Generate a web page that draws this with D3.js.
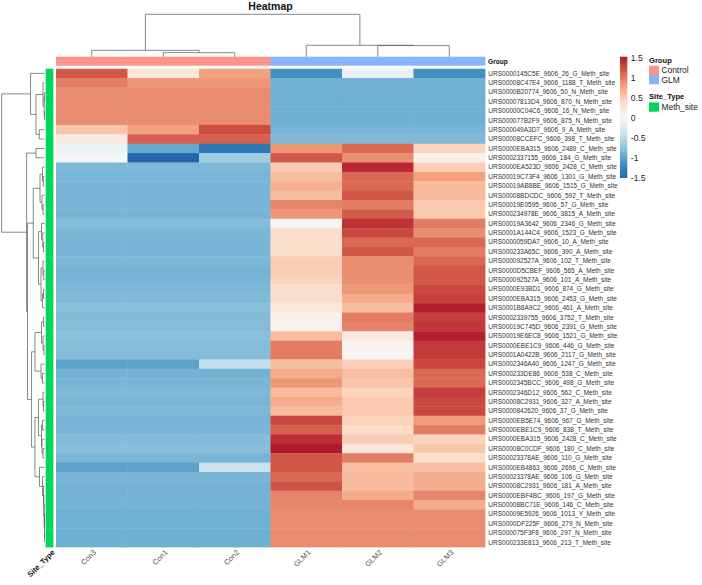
<!DOCTYPE html>
<html><head><meta charset="utf-8">
<script src="https://cdn.jsdelivr.net/npm/d3@7"></script>
<style>body{margin:0;background:#fff} svg{display:block;font-family:"Liberation Sans",Arial,Helvetica,sans-serif}</style>
</head><body><svg id="c" width="702" height="585"></svg>
<script>
// ---------------- data ----------------
const rowLabels = [
"URS0000145C5E_9606_26_G_Meth_site","URS00008C47E4_9606_1188_T_Meth_site","URS0000B20774_9606_50_N_Meth_site",
"URS00007813D4_9606_870_N_Meth_site","URS00000C04C6_9606_16_N_Meth_site","URS000077B2F9_9606_875_N_Meth_site",
"URS000049A3D7_9606_9_A_Meth_site","URS00008CCEFC_9606_398_T_Meth_site","URS0000EBA315_9606_2489_C_Meth_site",
"URS0002337155_9606_184_G_Meth_site","URS0000EA523D_9606_2428_C_Meth_site","URS00019C73F4_9606_1301_G_Meth_site",
"URS00019AB8BE_9606_1515_G_Meth_site","URS00008BDCDC_9606_592_T_Meth_site","URS00019E0595_9606_57_G_Meth_site",
"URS000234978E_9606_3815_A_Meth_site","URS00019A3642_9606_2346_G_Meth_site","URS0001A144C4_9606_1523_G_Meth_site",
"URS0000059DA7_9606_10_A_Meth_site","URS000233A65C_9606_390_A_Meth_site","URS000092527A_9606_102_T_Meth_site",
"URS0000D5CBEF_9606_565_A_Meth_site","URS000092527A_9606_101_A_Meth_site","URS0000E93BD1_9606_874_G_Meth_site",
"URS0000EBA315_9606_2453_G_Meth_site","URS0001B8A9C2_9606_461_A_Meth_site","URS0002339755_9606_3752_T_Meth_site",
"URS00019C745D_9606_2391_G_Meth_site","URS00019E6EC8_9606_1521_G_Meth_site","URS0000EBE1C9_9606_446_G_Meth_site",
"URS0001A0422B_9606_2117_G_Meth_site","URS0002346A40_9606_1247_G_Meth_site","URS000233DE86_9606_538_C_Meth_site",
"URS0002345BCC_9606_498_G_Meth_site","URS0002346D12_9606_562_C_Meth_site","URS00008C2931_9606_327_A_Meth_site",
"URS0000842620_9606_37_G_Meth_site","URS0000EB5E74_9606_967_G_Meth_site","URS0000EBE1C9_9606_838_T_Meth_site",
"URS0000EBA315_9606_2428_C_Meth_site","URS00008C0CDF_9606_180_C_Meth_site","URS00023378AE_9606_110_G_Meth_site",
"URS0000EB4863_9606_2696_C_Meth_site","URS00023378AE_9606_106_G_Meth_site","URS00008C2931_9606_181_A_Meth_site",
"URS0000EBF4BC_9606_197_G_Meth_site","URS00008BC71E_9606_146_C_Meth_site","URS00009E5926_9606_1013_Y_Meth_site",
"URS0000DF225F_9606_279_N_Meth_site","URS000075F3F8_9606_297_N_Meth_site","URS000233E813_9606_213_T_Meth_site"
];
const colLabels = ["Con3","Con1","Con2","GLM1","GLM2","GLM3"];
const colGroups = ["Control","Control","Control","GLM","GLM","GLM"];
const groupLevels = ["Control","GLM"];
const siteLevels = ["Meth_site"];
// row-scaled values, columns in colLabels order
const cellValues = [
[1.2,0.25,0.8,-1.15,-0.1,-1.15],
[1.0,0.85,0.85,-0.9,-0.9,-0.9],
[0.91,0.91,0.91,-0.91,-0.91,-0.91],
[0.91,0.91,0.91,-0.91,-0.91,-0.91],
[0.91,0.91,0.91,-0.91,-0.91,-0.91],
[0.91,0.91,0.91,-0.91,-0.91,-0.91],
[0.55,0.8,1.25,-0.87,-0.87,-0.87],
[0.18,1.15,1.15,-0.83,-0.83,-0.83],
[-0.1,-0.95,-1.35,0.85,1.1,0.45],
[0.0,-1.5,-0.65,1.2,0.9,0.08],
[-0.84,-0.84,-0.84,0.5,1.45,0.48],
[-0.86,-0.86,-0.86,0.6,1.1,0.8],
[-0.86,-0.86,-0.86,0.7,1.1,0.62],
[-0.86,-0.86,-0.86,0.6,1.2,0.62],
[-0.86,-0.86,-0.86,0.95,1.0,0.52],
[-0.87,-0.87,-0.87,0.85,1.18,0.52],
[-0.8,-0.8,-0.8,0.03,1.4,1.0],
[-0.85,-0.85,-0.85,0.35,1.28,0.9],
[-0.86,-0.86,-0.86,0.35,1.1,1.1],
[-0.86,-0.86,-0.86,0.35,1.2,1.0],
[-0.85,-0.85,-0.85,0.5,0.9,1.1],
[-0.88,-0.88,-0.88,0.5,0.9,1.2],
[-0.87,-0.87,-0.87,0.45,0.9,1.2],
[-0.85,-0.85,-0.85,0.35,0.85,1.28],
[-0.82,-0.82,-0.82,0.35,0.72,1.32],
[-0.79,-0.79,-0.79,0.22,0.6,1.5],
[-0.82,-0.82,-0.82,0.1,1.0,1.33],
[-0.81,-0.81,-0.81,0.1,0.95,1.36],
[-0.79,-0.79,-0.79,0.6,0.22,1.5],
[-0.81,-0.81,-0.81,1.0,0.06,1.35],
[-0.81,-0.81,-0.81,1.0,0.06,1.35],
[-1.0,-1.0,-0.45,0.6,0.48,1.28],
[-0.88,-0.88,-0.88,0.72,0.6,1.1],
[-0.86,-0.86,-0.86,0.85,0.55,1.1],
[-0.83,-0.83,-0.83,0.62,0.45,1.33],
[-0.86,-0.86,-0.86,0.72,0.52,1.28],
[-0.84,-0.84,-0.84,0.62,0.52,1.28],
[-0.87,-0.87,-0.87,1.28,0.45,0.82],
[-0.86,-0.86,-0.86,1.15,0.38,1.0],
[-0.81,-0.81,-0.81,1.42,0.5,0.45],
[-0.79,-0.79,-0.79,1.55,0.22,0.55],
[-0.86,-0.86,-0.86,1.2,1.0,0.35],
[-1.0,-1.0,-0.4,1.2,0.6,0.6],
[-0.86,-0.86,-0.86,1.12,0.62,0.72],
[-0.88,-0.88,-0.88,1.22,0.62,0.72],
[-0.88,-0.88,-0.88,0.95,0.72,0.95],
[-0.88,-0.88,-0.88,0.95,0.95,0.72],
[-0.91,-0.91,-0.91,0.91,0.91,0.91],
[-0.91,-0.91,-0.91,0.91,0.91,0.91],
[-0.91,-0.91,-0.91,0.91,0.91,0.91],
[-0.91,-0.91,-0.91,0.91,0.91,0.91]
];
// dendrograms: [mergeHeight, left, right], leaves = index
const rowTree = [4.3,
  [1.4, 0, [0.86, [0.15, 1, [0.03, [0, 2, 3], [0, 4, 5]]], [0.52, 6, 7]]],
  [1.8, [0.86, 8, 9],
    [1.71,
      [1.13,
        [0.45, [0.2, 10, [0.12, 11, 12]], [0.25, 13, [0.15, 14, 15]]],
        [0.6, [0.3, 16, [0.18, 17, [0.1, 18, 19]]], [0.35, [0.15, 20, [0.08, 21, 22]], [0.2, [0.1, 23, 24], 25]]]
      ],
      [1.3,
        [0.96, [0.3, [0.1, 26, 27], [0.15, 28, [0.05, 29, 30]]], [0.35, 31, [0.2, 32, 33]]],
        [0.96,
          [0.6, [0.15, 34, [0.1, 35, 36]], [0.3, [0.2, 37, 38], [0.25, 39, [0.15, 40, 41]]]],
          [0.5, 42, [0.2, 43, [0.1, 44, [0.06, 45, [0.03, 46, [0, [0, 47, 48], [0, 49, 50]]]]]]]
        ]
      ]
    ]
  ]
];
const colTree = [10, [1.5, 0, [0.95, 1, 2]], [2.7, 3, [2.62, 4, 5]]];
const legendTicks = [1.5, 1, 0.5, 0, -0.5, -1, -1.5];
const valueRange = [-1.5, 1.53];
const rdbu = ["#2166AC","#4393C3","#92C5DE","#D1E5F0","#F7F7F7","#FDDBC7","#F4A582","#D6604D","#B2182B"];

// ---------------- layout ----------------
const svg = d3.select("#c");
const L = {hx0:56, hx1:485, hy0:68.7, hy1:547, annY0:56.7, annY1:65.7, siteX0:45.7, siteX1:53.3,
           rdLeaf:44.5, rdRoot:1.7, cdRoot:14.3};

const x = d3.scaleBand().domain(d3.range(colLabels.length)).range([L.hx0, L.hx1]);
const y = d3.scaleBand().domain(d3.range(rowLabels.length)).range([L.hy0, L.hy1]);
const color = d3.scaleLinear()
  .domain(d3.range(rdbu.length).map(i => valueRange[0] + i*(valueRange[1]-valueRange[0])/(rdbu.length-1)))
  .range(rdbu).clamp(true);
const groupColor = d3.scaleOrdinal(groupLevels, ["#FB958B","#86B5FB"]);
const siteColor = d3.scaleOrdinal(siteLevels, ["#00D65A"]);

// heatmap cells
const cells = [];
cellValues.forEach((r,i) => r.forEach((v,j) => cells.push({i,j,v})));
svg.append("g").selectAll("rect").data(cells).join("rect")
  .attr("x", d => x(d.j)).attr("y", d => y(d.i))
  .attr("width", x.bandwidth()+0.4).attr("height", y.bandwidth()+0.4)
  .attr("fill", d => color(d.v));

// column annotation (Group)
svg.append("g").selectAll("rect").data(colGroups).join("rect")
  .attr("x", (d,j) => x(j)).attr("y", L.annY0)
  .attr("width", x.bandwidth()+0.4).attr("height", L.annY1-L.annY0)
  .attr("fill", d => groupColor(d));
svg.append("text").attr("x", L.hx1+3).attr("y", (L.annY0+L.annY1)/2).attr("dy","0.35em")
  .attr("font-size", 6.6).attr("font-weight","bold").attr("fill","#111").text("Group");

// row annotation (Site_Type)
svg.append("g").selectAll("rect").data(rowLabels).join("rect")
  .attr("x", L.siteX0).attr("y", (d,i) => y(i))
  .attr("width", L.siteX1-L.siteX0).attr("height", y.bandwidth()+0.4)
  .attr("fill", siteColor("Meth_site"));

// row labels
svg.append("g").selectAll("text").data(rowLabels).join("text")
  .attr("x", L.hx1+3.3).attr("y", (d,i) => y(i)+y.bandwidth()/2).attr("dy","0.35em")
  .attr("font-size", 6.5).attr("fill","#333").text(d => d);

// column labels
svg.append("g").selectAll("text").data(colLabels).join("text")
  .attr("transform", (d,j) => `translate(${x(j)+x.bandwidth()/2+3},${L.hy1+4}) rotate(-45)`)
  .attr("text-anchor","end").attr("dy","0.35em")
  .attr("font-size", 7.5).attr("fill","#555").text(d => d);
svg.append("text")
  .attr("transform", `translate(${L.siteX1},${L.hy1+4}) rotate(-45)`)
  .attr("text-anchor","end").attr("dy","0.35em")
  .attr("font-size", 7.5).attr("font-weight","bold").attr("fill","#111").text("Site_Type");

// title
svg.append("text").attr("x", (L.hx0+L.hx1)/2).attr("y", 10.3).attr("text-anchor","middle")
  .attr("font-size", 10.5).attr("font-weight","bold").attr("fill","#111").text("Heatmap");

// dendrogram helper
function build(tree){
  const root = d3.hierarchy(tree, d => Array.isArray(d) ? d.slice(1) : null);
  root.eachAfter(n => { n.h = n.children ? n.data[0] : 0; });
  return root;
}
// row dendrogram
const rRoot = build(rowTree);
const hx = d3.scaleLinear().domain([0, rowTree[0]]).range([L.rdLeaf, L.rdRoot]);
rRoot.eachAfter(n => { n.p = n.children ? d3.mean(n.children, c => c.p) : y(n.data)+y.bandwidth()/2; });
svg.append("g").selectAll("path").data(rRoot.links()).join("path")
  .attr("d", l => `M${hx(l.target.h)},${l.target.p}H${hx(l.source.h)}V${l.source.p}`)
  .attr("fill","none").attr("stroke","#555").attr("stroke-width",0.7);
// column dendrogram
const cRoot = build(colTree);
const hy = d3.scaleLinear().domain([0, colTree[0]]).range([L.annY0, L.cdRoot]);
cRoot.eachAfter(n => { n.p = n.children ? d3.mean(n.children, c => c.p) : x(n.data)+x.bandwidth()/2; });
svg.append("g").selectAll("path").data(cRoot.links()).join("path")
  .attr("d", l => `M${l.target.p},${hy(l.target.h)}V${hy(l.source.h)}H${l.source.p}`)
  .attr("fill","none").attr("stroke","#555").attr("stroke-width",0.7);

// color legend
const lg = {x:620, w:7.3, y0:178, y1:56.7};
const ly = d3.scaleLinear().domain(valueRange).range([lg.y0, lg.y1]);
const defs = svg.append("defs");
const grad = defs.append("linearGradient").attr("id","cb").attr("x1",0).attr("y1",1).attr("x2",0).attr("y2",0);
grad.selectAll("stop").data(color.domain()).join("stop")
  .attr("offset", d => (d-valueRange[0])/(valueRange[1]-valueRange[0]))
  .attr("stop-color", d => color(d));
svg.append("rect").attr("x", lg.x).attr("y", lg.y1).attr("width", lg.w).attr("height", lg.y0-lg.y1).attr("fill","url(#cb)");
svg.append("g").selectAll("text").data(legendTicks).join("text")
  .attr("x", lg.x+lg.w+3.5).attr("y", d => ly(d)).attr("dy","0.35em")
  .attr("font-size", 8.6).attr("fill","#222").text(d => String(d));

// categorical legends
const cl = {x:649, box:10};
function catLegend(title, levels, scale, y0){
  svg.append("text").attr("x", cl.x).attr("y", y0).attr("font-size", 7.6).attr("font-weight","bold").attr("fill","#111").text(title);
  const g = svg.append("g");
  g.selectAll("rect").data(levels).join("rect")
    .attr("x", cl.x).attr("y", (d,i) => y0+3.2+i*9.3).attr("width", cl.box).attr("height", 9.3)
    .attr("fill", d => scale(d));
  g.selectAll("text").data(levels).join("text")
    .attr("x", cl.x+cl.box+2.5).attr("y", (d,i) => y0+3.2+i*9.3+4.65).attr("dy","0.35em")
    .attr("font-size", 8.4).attr("fill","#222").text(d => d);
}
catLegend("Group", groupLevels, groupColor, 62.5);
catLegend("Site_Type", siteLevels, siteColor, 99.2);
</script></body></html>
